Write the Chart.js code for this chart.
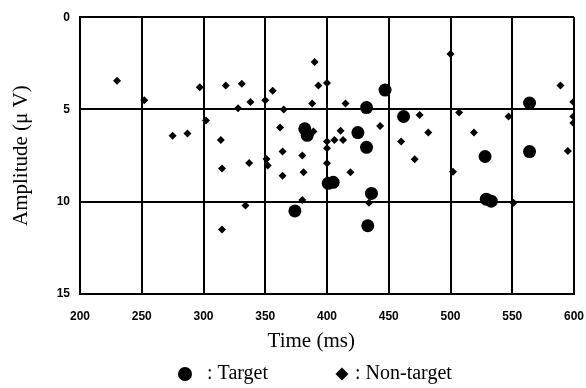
<!DOCTYPE html>
<html>
<head>
<meta charset="utf-8">
<script src="https://cdn.jsdelivr.net/npm/chart.js@4.4.1/dist/chart.umd.min.js"></script>
<style>
  html, body { margin: 0; padding: 0; background: #fff; }
  #wrap { width: 586px; height: 388px; }
</style>
</head>
<body>
<div id="wrap"><canvas id="c" width="586" height="388"></canvas></div>
<script>
// latency (ms) and amplitude (uV) of each peak
const targetTime = [447, 432, 462, 382, 384, 425, 432, 401, 405, 436, 374, 433, 564, 528, 564, 529, 533];
const targetAmp = [3.95, 4.9, 5.38, 6.05, 6.4, 6.25, 7.05, 9.0, 8.95, 9.55, 10.5, 11.3, 4.65, 7.55, 7.28, 9.86, 9.97];

const nonTargetTime = [230, 252, 297, 318, 331, 328, 338, 350, 302, 275, 287, 314, 315, 337, 351, 352, 334, 315,
  390, 356, 393, 400, 365, 388, 415, 475, 362, 389, 400, 400, 406, 411, 413, 443, 460, 482, 364, 380,
  471, 400, 364, 381, 419, 380, 434, 500, 589, 599.5, 507, 547, 599.5, 599.5, 519, 595, 502, 551];
const nonTargetAmp = [3.44, 4.5, 3.8, 3.7, 3.6, 4.93, 4.6, 4.5, 5.6, 6.43, 6.3, 6.65, 8.2, 7.9, 7.68, 8.04, 10.2, 11.5,
  2.43, 3.98, 3.7, 3.57, 5.0, 4.67, 4.67, 5.3, 5.98, 6.2, 6.74, 7.1, 6.65, 6.16, 6.65, 5.89, 6.74, 6.25, 7.28, 7.5,
  7.7, 7.92, 8.59, 8.4, 8.4, 9.9, 10.05, 2.0, 3.7, 4.6, 5.16, 5.38, 5.38, 5.74, 6.25, 7.25, 8.37, 10.05];

const xTicks = [200, 250, 300, 350, 400, 450, 500, 550, 600];
const yTicks = [0, 5, 10, 15];

const toPoints = (xs, ys) => xs.map((x, i) => ({ x, y: ys[i] }));
const serif = '"Liberation Serif", "Times New Roman", serif';
const sans = '"Liberation Sans", Arial, sans-serif';

// legend sits under the axis title, marker then ": label"
const legendLayout = { y: 374, items: [{ markX: 185, textX: 207, r: 7 }, { markX: 342, textX: 355, r: 6.5 }] };

const bottomLegend = {
  id: 'bottomLegend',
  afterDraw(chart) {
    const ctx = chart.ctx;
    ctx.save();
    ctx.fillStyle = '#000';
    ctx.font = '20px ' + serif;
    ctx.textBaseline = 'middle';
    ctx.textAlign = 'left';
    chart.data.datasets.forEach((ds, i) => {
      const item = legendLayout.items[i];
      Chart.helpers.drawPoint(ctx, { pointStyle: ds.pointStyle, radius: item.r, borderWidth: 0 }, item.markX, legendLayout.y);
      ctx.fillText(': ' + ds.label, item.textX, legendLayout.y);
    });
    ctx.restore();
  },
};

new Chart(document.getElementById('c'), {
  type: 'scatter',
  data: {
    datasets: [
      {
        label: 'Target',
        data: toPoints(targetTime, targetAmp),
        pointStyle: 'circle',
        pointRadius: 6.5,
        backgroundColor: '#000',
        borderColor: '#000',
        borderWidth: 0,
      },
      {
        label: 'Non-target',
        data: toPoints(nonTargetTime, nonTargetAmp),
        pointStyle: 'rectRot',
        pointRadius: 4,
        backgroundColor: '#000',
        borderColor: '#000',
        borderWidth: 0,
      },
    ],
  },
  options: {
    responsive: false,
    animation: false,
    layout: { padding: { top: 16, right: 12, left: 0, bottom: 28 } },
    plugins: {
      legend: { display: false },
      tooltip: { enabled: false },
    },
    scales: {
      x: {
        type: 'linear',
        min: 200,
        max: 600,
        afterBuildTicks: (s) => { s.ticks = xTicks.map((v) => ({ value: v })); },
        afterFit: (s) => { s.height = 66; s.paddingLeft = 0; s.paddingRight = 0; },
        ticks: { color: '#000', font: { family: sans, size: 12, weight: 'bold' }, padding: 15 },
        grid: { color: '#000', lineWidth: 2, drawTicks: false },
        border: { color: '#000', width: 2 },
        title: {
          display: true,
          text: 'Time (ms)' + '\u00a0'.repeat(6),
          color: '#000',
          font: { family: serif, size: 21 },
          padding: { top: 0, bottom: 6 },
        },
      },
      y: {
        type: 'linear',
        reverse: true,
        min: 0,
        max: 15,
        afterBuildTicks: (s) => { s.ticks = yTicks.map((v) => ({ value: v })); },
        afterFit: (s) => { s.width = 80; },
        ticks: { color: '#000', font: { family: sans, size: 12, weight: 'bold' }, padding: 10 },
        grid: { color: '#000', lineWidth: 2, drawTicks: false },
        border: { color: '#000', width: 2 },
        title: {
          display: true,
          text: 'Amplitude (μ V)',
          color: '#000',
          font: { family: serif, size: 21 },
          padding: { top: 9, bottom: 0 },
        },
      },
    },
  },
  plugins: [bottomLegend],
});
</script>
</body>
</html>
